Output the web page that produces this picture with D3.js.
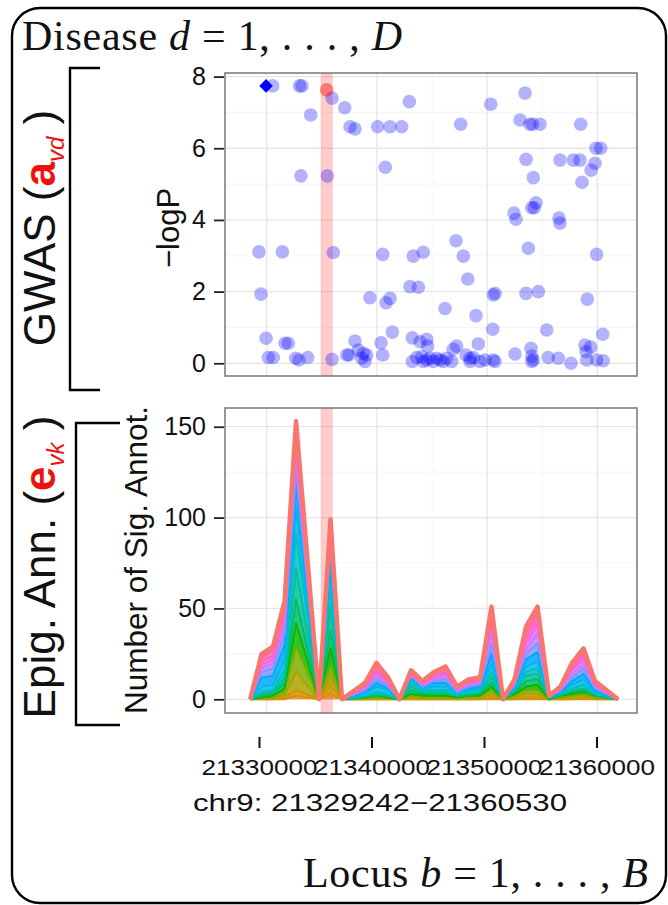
<!DOCTYPE html>
<html><head><meta charset="utf-8">
<script src="https://cdn.jsdelivr.net/npm/d3@7"></script>
<style>body{margin:0;background:#fff} svg{display:block}</style>
</head><body>
<svg id="c" width="668" height="905"></svg>
<script>
// ---------------- DATA ----------------
// GWAS SNPs (position in bp, -log10 P)
const gwasPos = [21330540,21332980,21333200,21335930,21337080,21333990,21337560,21338010,21340070,21341190,21342250,21342940,
  21333110,21335500,21340760,21329300,21331420,21336040,21340530,21329480,21339370,21340830,21341190,21329940,21331660,21331960,
  21341400,21338010,21340370,21330150,21330600,21332630,21332930,21333720,21335930,21337260,21337470,21338310,21338770,21339070,
  21338620,21338920,21340530,
  21347600,21350330,21353440,21352990,21353890,21354140,21354800,21358490,21359880,21360310,21353530,21356610,21357820,21358430,
  21359790,21359430,21354190,21358610,21354440,21354050,21354280,21352440,21352620,21356520,21356610,21347180,21353740,21343300,
  21344210,21347840,21359940,21348240,21343000,21343760,21350720,21350560,21353530,21354650,21359090,21346180,21348990,21350510,
  21355410,21360490,21343210,21343910,21344520,21344610,21349200,21347240,21346930,21358880,21359400,21358970,21353980,
  21343210,21343610,21344070,21344520,21344210,21344820,21345430,21345730,21346030,21346330,21346790,21345120,21348080,21348450,
  21348750,21348450,21349350,21349810,21350720,21350560,21352530,21354050,21354050,21354190,21355550,21356460,21357610,21359040,
  21359940,21360540];
const gwasLogP = [7.74,7.74,7.74,7.40,7.13,6.93,6.60,6.54,6.60,6.60,6.60,7.30,
  5.23,5.23,5.47,3.11,3.11,3.09,3.04,1.93,1.83,1.69,1.81,0.70,0.56,0.56,
  0.87,0.62,0.57,0.16,0.16,0.14,0.09,0.16,0.11,0.23,0.23,0.37,0.28,0.23,
  0.14,0.05,0.23,
  6.67,7.23,7.54,6.79,6.67,6.67,6.67,6.67,6.00,6.00,5.69,5.67,5.67,5.67,
  5.58,5.39,5.18,5.05,4.48,4.34,4.34,4.19,4.02,4.05,3.91,3.42,3.21,2.99,
  3.10,2.99,3.04,2.35,2.14,2.12,1.95,1.91,1.95,2.00,1.79,1.53,1.33,0.95,
  0.93,0.81,0.71,0.60,0.67,0.48,0.54,0.48,0.39,0.51,0.45,0.32,0.42,
  0.05,0.16,0.18,0.09,0.05,0.14,0.14,0.09,0.05,0.14,0.05,0.05,0.23,0.14,
  0.16,0.05,0.05,0.09,0.05,0.09,0.26,0.20,0.05,0.09,0.16,0.14,0.00,0.09,
  0.09,0.07];
const leadPos = [21329940], leadLogP = [7.74];      // diamond
const focusPos = [21335440], focusLogP = [7.63];    // red point
const bandRange = [21334900, 21336000];             // highlighted window

// Epigenomic annotation counts: bin positions and counts per annotation group
const annotPos = [21328500,21329540,21330570,21331620,21332660,21334750,21335790,21336830,21338920,21339960,
  21341010,21342050,21343090,21344140,21345180,21346230,21347270,21348310,21349360,21350400,
  21351440,21352490,21353530,21354570,21355620,21356660,21357700,21358750,21359790,21361880];
const annotCounts = [
  [0,0,0,0,2,0,3,0,0,0,0,0,0,0,0,0,0,0,0,0,0,0,0,0,0,0,0,0,0,0],
  [0,0,0,1,3,0,5,0,0,0,0,0,0,0,0,0,0,0,0,1,0,0,1,1,0,0,0,1,0,0],
  [0,1,1,1,10,0,5,0,0,1,1,0,1,1,1,1,0,1,1,2,0,1,2,2,0,1,1,1,1,0],
  [0,0,0,2,14,0,5,0,1,0,0,0,1,0,0,0,1,0,1,2,0,1,2,2,0,0,1,1,0,0],
  [0,0,1,2,13,0,10,0,0,1,0,0,1,1,1,1,0,1,0,2,0,1,2,3,0,1,1,1,1,0],
  [0,1,1,3,13,0,10,0,0,0,1,0,2,1,1,1,1,0,1,2,0,1,3,3,1,0,1,1,0,0],
  [0,1,1,3,17,0,13,0,1,1,0,0,2,1,1,1,0,1,1,3,0,1,3,3,0,1,1,1,1,0],
  [0,1,1,4,19,0,9,0,0,1,1,0,2,1,1,1,1,1,1,3,0,0,2,3,0,0,1,2,0,0],
  [0,3,3,6,14,0,10,0,1,3,2,0,2,1,2,2,0,1,1,4,0,1,3,4,0,1,2,3,1,0],
  [0,5,5,8,13,0,8,0,1,2,1,0,1,1,2,2,1,1,1,6,0,1,4,5,0,0,2,3,1,0],
  [0,3,4,6,7,0,5,0,1,2,1,0,1,0,1,2,0,1,1,5,0,1,3,5,0,1,2,3,1,0],
  [0,2,3,4,7,0,4,0,1,2,1,0,0,1,1,2,1,1,1,6,0,0,3,5,1,0,2,2,1,0],
  [0,2,2,4,7,0,3,0,1,2,1,0,1,0,1,1,0,1,1,4,0,1,3,5,0,1,2,3,1,0],
  [0,2,2,4,6,0,3,0,0,1,1,0,0,1,1,1,1,0,0,4,0,1,3,4,0,0,1,2,0,0],
  [0,2,3,3,5,0,3,0,1,2,1,0,1,0,1,2,0,1,1,4,0,0,3,3,0,0,2,2,1,0],
  [0,2,2,3,3,0,3,0,1,2,1,0,1,1,1,1,1,1,1,3,0,1,3,3,0,1,1,2,1,0]
];

// Ticks / breaks
const gwasTicks = [0,2,4,6,8];
const gwasMinor = [1,3,5,7];
const annotTicks = [0,50,100,150];
const annotMinor = [25,75,125];
const locusTicks = [21330000,21340000,21350000,21360000];
const locusMinor = [21335000,21345000,21355000];
const regionLabel = "chr9: 21329242\u221221360530";

// ---------------- LAYOUT ----------------
const sans = "'Liberation Sans', Arial, Helvetica, sans-serif";
const serif = "'Liberation Serif', 'Times New Roman', serif";
const svg = d3.select("#c");
const L = 225, R = 637;
const topP = {t:73, b:376}, botP = {t:408, b:713};

const x = d3.scaleLinear().domain([21326216, 21363600]).range([L, R]);
const xTrack = d3.scaleLinear().domain([21326980, 21363600]).range([L, R]);
const yTop = d3.scaleLinear().domain([-0.355, 8.1]).range([topP.b, topP.t]);
const yBot = d3.scaleLinear().domain([-7.54, 160.3]).range([botP.b, botP.t]);

// ggplot-style hue colour (polar CIE-LUV, c=100, l=65)
function hueColor(h, c = 100, l = 65){
  const hr = h * Math.PI / 180, U = c*Math.cos(hr), V = c*Math.sin(hr);
  const Xn = 95.047, Yn = 100, Zn = 108.883, den = Xn + 15*Yn + 3*Zn;
  const un = 4*Xn/den, vn = 9*Yn/den;
  const Y = Yn * Math.pow((l+16)/116, 3);
  const u = U/(13*l) + un, v = V/(13*l) + vn;
  const X = 9*Y*u/(4*v), Z = -X/3 - 5*Y + 3*Y/v;
  const xx = X/100, yy = Y/100, zz = Z/100;
  const lin = [3.240479*xx - 1.537150*yy - 0.498535*zz,
              -0.969256*xx + 1.875992*yy + 0.041556*zz,
               0.055648*xx - 0.204043*yy + 1.057311*zz];
  const g = lin.map(t => { t = t <= 0.0031308 ? 12.92*t : 1.055*Math.pow(t, 1/2.4) - 0.055;
    return Math.round(255*Math.max(0, Math.min(1, t))); });
  return d3.rgb(g[0], g[1], g[2]).formatHex();
}

// outer rounded frame
svg.append("rect").attr("x",12).attr("y",8).attr("width",654).attr("height",895)
  .attr("rx",28).attr("fill","none").attr("stroke","#000").attr("stroke-width",2.4);

const defs = svg.append("defs");
function clip(id,p){ defs.append("clipPath").attr("id",id).append("rect")
  .attr("x",L).attr("y",p.t).attr("width",R-L).attr("height",p.b-p.t); }
clip("cTop",topP); clip("cBot",botP);

function panel(p, y, major, minor, clipId){
  const g = svg.append("g");
  g.append("rect").attr("x",L).attr("y",p.t).attr("width",R-L).attr("height",p.b-p.t).attr("fill","#fff");
  const grid = g.append("g");
  grid.selectAll(".hm").data(minor).join("line").attr("x1",L).attr("x2",R)
    .attr("y1",d=>y(d)).attr("y2",d=>y(d)).attr("stroke","#F5F5F5").attr("stroke-width",1.1);
  grid.selectAll(".vm").data(locusMinor).join("line").attr("y1",p.t).attr("y2",p.b)
    .attr("x1",d=>x(d)).attr("x2",d=>x(d)).attr("stroke","#F5F5F5").attr("stroke-width",1.1);
  grid.selectAll(".hM").data(major).join("line").attr("x1",L).attr("x2",R)
    .attr("y1",d=>y(d)).attr("y2",d=>y(d)).attr("stroke","#E6E6E6").attr("stroke-width",1.3);
  grid.selectAll(".vM").data(locusTicks).join("line").attr("y1",p.t).attr("y2",p.b)
    .attr("x1",d=>x(d)).attr("x2",d=>x(d)).attr("stroke","#E6E6E6").attr("stroke-width",1.3);
  // highlight band
  g.append("rect").attr("x",x(bandRange[0])).attr("width",x(bandRange[1])-x(bandRange[0]))
    .attr("y",p.t).attr("height",p.b-p.t).attr("fill","rgba(255,0,0,0.2)");
  const marks = g.append("g").attr("clip-path",`url(#${clipId})`);
  const ax = svg.append("g").attr("transform",`translate(${L-1},0)`)
    .call(d3.axisLeft(y).tickValues(major).tickSize(10).tickPadding(8));
  ax.select(".domain").remove();
  ax.selectAll(".tick line").attr("stroke","#222").attr("stroke-width",1.8);
  ax.selectAll(".tick text").attr("font-family",sans).attr("font-size",25).attr("fill","#111");
  return {g, marks};
}

// ---- GWAS panel
const pt = panel(topP, yTop, gwasTicks, gwasMinor, "cTop");
pt.marks.selectAll("circle.snp").data(d3.range(gwasPos.length)).join("circle")
  .attr("cx",i=>x(gwasPos[i])).attr("cy",i=>yTop(gwasLogP[i])).attr("r",6.8)
  .attr("fill","#0000FF").attr("fill-opacity",0.3);
pt.marks.selectAll("circle.focus").data(d3.range(focusPos.length)).join("circle")
  .attr("cx",i=>x(focusPos[i])).attr("cy",i=>yTop(focusLogP[i])).attr("r",6.8)
  .attr("fill","#FF0000").attr("fill-opacity",0.42);
pt.marks.selectAll("path.lead").data(d3.range(leadPos.length)).join("path")
  .attr("d",d3.symbol(d3.symbolSquare,92)())
  .attr("transform",i=>`translate(${x(leadPos[i])},${yTop(leadLogP[i])}) rotate(45)`)
  .attr("fill","#0000FF");
svg.append("rect").attr("x",L).attr("y",topP.t).attr("width",R-L).attr("height",topP.b-topP.t)
  .attr("fill","none").attr("stroke","#808080").attr("stroke-width",1.6);

// ---- Annotation panel
const pb = panel(botP, yBot, annotTicks, annotMinor, "cBot");
const keys = annotCounts.map((_,k)=>"g"+k);
const rows = annotPos.map((p,i)=>{ const r={pos:p}; annotCounts.forEach((a,k)=>r["g"+k]=a[i]); return r; });
const series = d3.stack().keys(keys)(rows);
const K = keys.length;
const col = k => hueColor(15 + 360*(k+1)/K);
const area = d3.area().x(d=>x(d.data.pos)).y0(d=>yBot(d[0])).y1(d=>yBot(d[1]));
const line = d3.line().x(d=>x(d.data.pos)).y(d=>yBot(d[1]));
pb.marks.selectAll("path.area").data(series).join("path")
  .attr("d",area).attr("fill",(s,k)=>col(k)).attr("fill-opacity",0.85);
pb.marks.selectAll("path.ln").data(series).join("path")
  .attr("d",line).attr("fill","none").attr("stroke",(s,k)=>col(k))
  .attr("stroke-width",(s,k)=>k===K-1?4.5:2).attr("stroke-linejoin","round");
svg.append("rect").attr("x",L).attr("y",botP.t).attr("width",R-L).attr("height",botP.b-botP.t)
  .attr("fill","none").attr("stroke","#808080").attr("stroke-width",1.6);

// ---- bottom locus axis
const xa = svg.append("g").attr("transform","translate(0,737)")
  .call(d3.axisBottom(xTrack).tickValues(locusTicks).tickSize(11).tickPadding(11).tickFormat(d3.format("d")));
xa.select(".domain").remove();
xa.selectAll(".tick line").attr("stroke","#111").attr("stroke-width",2);
xa.selectAll(".tick text").attr("font-family",sans).attr("font-size",22).attr("fill","#111")
  .attr("textLength",116).attr("lengthAdjust","spacingAndGlyphs");
svg.append("text").attr("x",380).attr("y",811).attr("text-anchor","middle")
  .attr("font-family",sans).attr("font-size",24).attr("fill","#111")
  .attr("textLength",374).attr("lengthAdjust","spacingAndGlyphs").text(regionLabel);

// ---- axis titles
svg.append("text").attr("transform","translate(179,228) rotate(-90)").attr("text-anchor","middle")
  .attr("font-family",sans).attr("font-size",31).attr("fill","#111").text("\u2212logP");
svg.append("text").attr("transform","translate(147,560) rotate(-90)").attr("text-anchor","middle")
  .attr("font-family",sans).attr("font-size",31.5).attr("fill","#111").text("Number of Sig. Annot.");

// ---- side labels with brackets
function sideLabel(cx, cy, main, sym, sub){
  const t = svg.append("text").attr("transform",`translate(${cx},${cy}) rotate(-90)`)
    .attr("text-anchor","middle").attr("font-family",sans).attr("font-size",44).attr("fill","#111");
  t.append("tspan").text(main + " (");
  t.append("tspan").attr("fill","#EE1111").attr("font-weight","bold").text(sym);
  t.append("tspan").attr("fill","#EE1111").attr("font-style","italic").attr("font-size",24).attr("dy",9).text(sub);
  t.append("tspan").attr("dy",-9).text(" )");
}
sideLabel(55, 228, "GWAS", "a", "vd");
sideLabel(55, 567, "Epig. Ann.", "e", "vk");
svg.append("path").attr("d","M100,68H70V390H100").attr("fill","none").attr("stroke","#000").attr("stroke-width",2.4);
svg.append("path").attr("d","M120,423H76V725H120").attr("fill","none").attr("stroke","#000").attr("stroke-width",2.4);

// ---- LaTeX-like captions
const t1 = svg.append("text").attr("x",22).attr("y",50).attr("font-family",serif).attr("font-size",42).attr("fill","#111")
  .attr("textLength",380).attr("lengthAdjust","spacing");
t1.append("tspan").text("Disease ");
t1.append("tspan").attr("font-style","italic").text("d");
t1.append("tspan").text(" = 1, . . . , ");
t1.append("tspan").attr("font-style","italic").text("D");
const t2 = svg.append("text").attr("x",303).attr("y",887).attr("font-family",serif).attr("font-size",42).attr("fill","#111")
  .attr("textLength",345).attr("lengthAdjust","spacing");
t2.append("tspan").text("Locus ");
t2.append("tspan").attr("font-style","italic").text("b");
t2.append("tspan").text(" = 1, . . . , ");
t2.append("tspan").attr("font-style","italic").text("B");
</script>
</body></html>
